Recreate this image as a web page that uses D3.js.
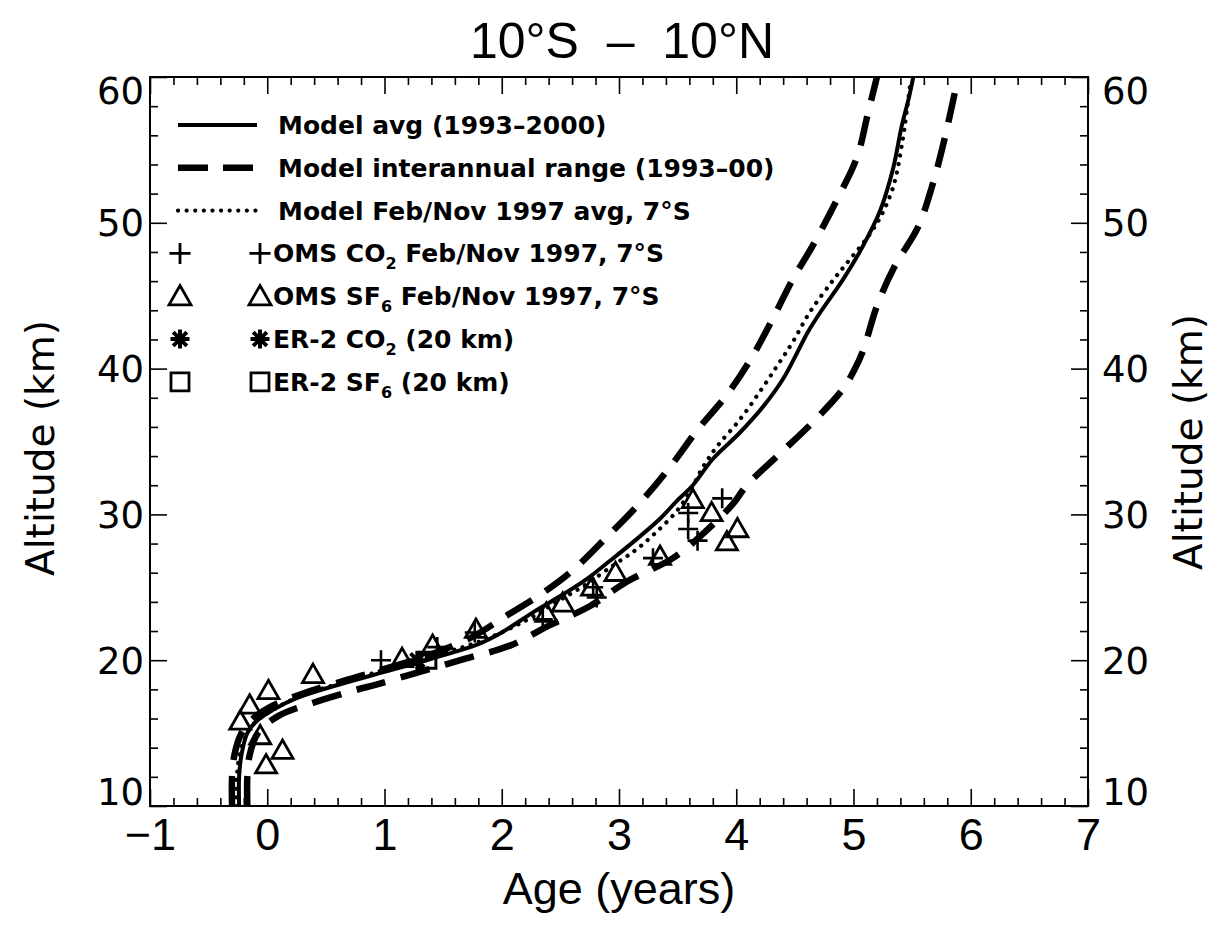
<!DOCTYPE html>
<html>
<head>
<meta charset="utf-8">
<script src="https://cdn.jsdelivr.net/npm/d3@7"></script>
<style>
  body { margin: 0; background: #fff; }
  svg text { fill: #000; white-space: pre; }
</style>
</head>
<body>
<svg id="chart" width="1217" height="932"></svg>
<script>
// ---- data (age in years, altitude in km) ----
const ageTicks = [-1, 0, 1, 2, 3, 4, 5, 6, 7];
const altTicks = [10, 20, 30, 40, 50, 60];

const modelAvg = [[-0.24,10],[-0.24,12],[-0.22,13.5],[-0.17,15],[-0.08,15.9],[0.05,16.6],[0.25,17.4],[0.6,18.3],
  [1.0,19.2],[1.4,20.1],[1.8,21.1],[2.0,21.9],[2.27,23.3],[2.5,24.4],[2.73,25.6],[2.92,26.8],[3.12,28.1],
  [3.35,29.7],[3.49,30.9],[3.63,32.0],[3.80,33.8],[4.03,35.6],[4.24,37.5],[4.40,39.3],[4.52,41.1],[4.61,42.5],
  [4.72,43.9],[4.91,46.1],[5.08,48.4],[5.23,50.9],[5.34,53.8],[5.41,56.6],[5.47,58.5],[5.51,60]];

const rangeLow = [[-0.30,10],[-0.30,12],[-0.28,13.5],[-0.22,15],[-0.12,16],[0.05,16.9],[0.3,17.7],[0.7,18.7],
  [1.0,19.4],[1.4,20.4],[1.75,21.6],[2.01,22.9],[2.33,24.5],[2.61,26.2],[2.89,28.4],[3.18,30.8],[3.43,33.2],
  [3.67,35.8],[3.92,38.2],[4.12,40.6],[4.31,43.4],[4.48,46.1],[4.65,48.4],[4.86,51.6],[5.03,54.5],[5.12,57.4],[5.20,60]];

const rangeHigh = [[-0.17,10],[-0.17,12],[-0.15,13.5],[-0.08,15],[0.1,16.2],[0.4,17.1],[0.73,17.9],[0.96,18.4],
  [1.3,19.2],[1.69,20.1],[2.07,21.0],[2.41,22.4],[2.75,23.7],[3.07,25.4],[3.46,27.0],[3.72,28.7],[3.97,30.7],
  [4.09,32.0],[4.35,34.0],[4.65,36.3],[4.91,38.6],[5.0,39.8],[5.08,41.2],[5.20,44.3],[5.35,47.0],[5.55,49.7],
  [5.67,52.5],[5.76,55.2],[5.85,58.4],[5.89,60]];

const model1997 = [[-0.26,10],[-0.26,12],[-0.22,14],[-0.12,15.6],[0.05,16.6],[0.3,17.6],[0.7,18.6],[1.1,19.6],
  [1.5,20.5],[1.85,21.4],[2.2,22.7],[2.45,23.9],[2.7,25.1],[2.95,26.5],[3.15,27.6],[3.32,28.8],[3.49,30.2],
  [3.6,31.5],[3.72,33.3],[3.84,34.7],[4.03,36.5],[4.20,38.4],[4.35,40.2],[4.48,41.8],[4.63,43.9],[4.83,46.1],
  [4.97,47.5],[5.11,48.9],[5.23,50.4],[5.34,52.5],[5.42,55.7],[5.46,58],[5.48,59.3]];

const omsCO2 = [[0.97,20.0],[1.45,20.9],[1.77,21.9],[2.35,22.8],[2.78,25.0],[2.81,24.3],[3.29,27.0],
  [3.59,30.1],[3.59,29.0],[3.67,28.2],[3.88,31.1]];
const omsSF6 = [[-0.01,12.7],[0.13,13.7],[-0.06,14.7],[-0.23,15.7],[-0.15,16.8],[0.01,17.8],[0.39,18.9],
  [1.15,20.0],[1.41,20.9],[1.78,22.0],[2.38,23.1],[2.52,23.8],[2.77,24.9],[2.97,25.9],[3.35,27.0],
  [3.63,30.9],[3.79,30.0],[4.01,28.9],[3.92,28.0]];
const er2CO2 = [[1.28,20.0]];
const er2SF6 = [[1.37,20.0]];

const legendLines = [
  { label: "Model avg (1993\u20132000)", dash: null },
  { label: "Model interannual range (1993\u201300)", dash: "30,15" },
  { label: "Model Feb/Nov 1997 avg, 7\u00b0S", dash: "dot" }
];
const legendMarks = [
  { sym: "plus", label: "OMS CO_2 Feb/Nov 1997, 7\u00b0S" },
  { sym: "tri", label: "OMS SF_6 Feb/Nov 1997, 7\u00b0S" },
  { sym: "star", label: "ER-2 CO_2 (20 km)" },
  { sym: "square", label: "ER-2 SF_6 (20 km)" }
];

// ---- layout ----
const svg = d3.select("#chart");
const pLeft = 150, pRight = 1088, pTop = 77, pBottom = 806;

let x = d3.scaleLinear().domain([-1, 7]).range([pLeft, pRight]);
let y = d3.scaleLinear().domain([10, 60]).range([pBottom, pTop]);

svg.append("defs").append("clipPath").attr("id", "plotclip")
  .append("rect").attr("x", pLeft).attr("y", pTop).attr("width", pRight - pLeft).attr("height", pBottom - pTop);

// title
svg.append("text").attr("x", 622).attr("y", 58).attr("text-anchor", "middle")
  .style("font-family", "'Liberation Sans', Arial, sans-serif").style("font-size", "50px")
  .text("10\u00b0S  \u2013  10\u00b0N");

// axes
const minorX = d3.range(-1, 7.001, 0.2).map(d => +d.toFixed(1)).filter(d => !ageTicks.includes(d));
const minorY = d3.range(10, 60.001, 2).filter(d => !altTicks.includes(d));

function strip(g) {
  g.select(".domain").remove();
  g.selectAll("line").attr("stroke", "#000").attr("stroke-width", 1.6);
}

svg.append("g").attr("transform", `translate(0,${pBottom})`)
  .call(d3.axisBottom(x).tickValues(ageTicks).tickSize(-17).tickPadding(12)
    .tickFormat(d => d < 0 ? "\u2212" + Math.abs(d) : d))
  .call(strip)
  .call(g => g.selectAll("text").style("font-family", "'Liberation Sans', Arial, sans-serif").style("font-size", "45px"));
svg.append("g").attr("transform", `translate(0,${pBottom})`)
  .call(d3.axisBottom(x).tickValues(minorX).tickSize(-8).tickFormat("")).call(strip);
svg.append("g").attr("transform", `translate(0,${pTop})`)
  .call(d3.axisTop(x).tickValues(ageTicks).tickSize(-17).tickFormat("")).call(strip);
svg.append("g").attr("transform", `translate(0,${pTop})`)
  .call(d3.axisTop(x).tickValues(minorX).tickSize(-8).tickFormat("")).call(strip);

function altLabels(g) {
  g.selectAll("text").style("font-family", "'DejaVu Sans', sans-serif").style("font-size", "37px")
    .attr("dy", d => d === 60 ? "0.72em" : d === 10 ? "-0.05em" : "0.35em");
}
svg.append("g").attr("transform", `translate(${pLeft},0)`)
  .call(d3.axisLeft(y).tickValues(altTicks).tickSize(-17).tickPadding(6)).call(strip).call(altLabels);
svg.append("g").attr("transform", `translate(${pLeft},0)`)
  .call(d3.axisLeft(y).tickValues(minorY).tickSize(-8).tickFormat("")).call(strip);
svg.append("g").attr("transform", `translate(${pRight},0)`)
  .call(d3.axisRight(y).tickValues(altTicks).tickSize(-17).tickPadding(14)).call(strip).call(altLabels);
svg.append("g").attr("transform", `translate(${pRight},0)`)
  .call(d3.axisRight(y).tickValues(minorY).tickSize(-8).tickFormat("")).call(strip);

// frame
svg.append("rect").attr("x", pLeft).attr("y", pTop).attr("width", pRight - pLeft).attr("height", pBottom - pTop)
  .attr("fill", "none").attr("stroke", "#000").attr("stroke-width", 2);

// axis titles
svg.append("text").attr("x", 619).attr("y", 904).attr("text-anchor", "middle")
  .style("font-family", "'Liberation Sans', Arial, sans-serif").style("font-size", "45px").text("Age (years)");
svg.append("text").attr("transform", "translate(54,448) rotate(-90)").attr("text-anchor", "middle")
  .style("font-family", "'DejaVu Sans', sans-serif").style("font-size", "39px").text("Altitude (km)");
svg.append("text").attr("transform", "translate(1202,442) rotate(-90)").attr("text-anchor", "middle")
  .style("font-family", "'DejaVu Sans', sans-serif").style("font-size", "39px").text("Altitude (km)");

// model curves
let line = d3.line().x(d => x(d[0])).y(d => y(d[1])).curve(d3.curveCatmullRom.alpha(0.5));
let plot = svg.append("g").attr("clip-path", "url(#plotclip)");

function styleLine(sel, dash) {
  sel.attr("fill", "none").attr("stroke", "#000");
  if (dash === "dot") {
    sel.attr("stroke-width", 4.2).attr("stroke-dasharray", "0.1,8.5").attr("stroke-linecap", "round");
  } else if (dash) {
    sel.attr("stroke-width", 6.5).attr("stroke-dasharray", dash);
  } else {
    sel.attr("stroke-width", 4);
  }
  return sel;
}

plot.append("path").datum(model1997).attr("d", line).call(styleLine, "dot");
plot.append("path").datum(modelAvg).attr("d", line).call(styleLine, null);
plot.append("path").datum(rangeLow).attr("d", line).call(styleLine, "30,16");
plot.append("path").datum(rangeHigh).attr("d", line).call(styleLine, "30,16");

// marker shapes
function symPath(sym, s) {
  if (sym === "plus") return `M${-s},0H${s}M0,${-s}V${s}`;
  if (sym === "tri") return `M0,${-s * 1.15}L${s},${s * 0.6}L${-s},${s * 0.6}Z`;
  if (sym === "square") return `M${-s},${-s}H${s}V${s}H${-s}Z`;
  let k = s * 0.72;
  return `M${-s},0H${s}M0,${-s}V${s}M${-k},${-k}L${k},${k}M${-k},${k}L${k},${-k}`;
}
function drawMarks(data, sym, s, w) {
  plot.append("g").selectAll("path").data(data).enter().append("path")
    .attr("transform", d => `translate(${x(d[0])},${y(d[1])})`)
    .attr("d", symPath(sym, s))
    .attr("fill", "none").attr("stroke", "#000").attr("stroke-width", w);
}
drawMarks(omsSF6, "tri", 10.5, 2.8);
drawMarks(omsCO2, "plus", 10, 2.6);
drawMarks(er2CO2, "star", 9.5, 4);
drawMarks(er2SF6, "square", 8, 3);

// legend
const legendFont = "'DejaVu Sans', sans-serif";
const rowY = d3.range(7).map(i => 125 + i * 42.8);
let leg = svg.append("g");

legendLines.forEach((d, i) => {
  leg.append("line").attr("x1", 178).attr("x2", 257).attr("y1", rowY[i]).attr("y2", rowY[i])
    .call(styleLine, d.dash);
  leg.append("text").attr("x", 278).attr("y", rowY[i] + 9)
    .style("font-family", legendFont).style("font-weight", "bold").style("font-size", "25px")
    .text(d.label);
});

legendMarks.forEach((d, j) => {
  let i = j + 3;
  let s = d.sym === "tri" ? 11 : d.sym === "square" ? 9 : d.sym === "star" ? 9.5 : 10.5;
  let w = d.sym === "star" ? 4 : 2.8;
  [180, 260].forEach(cx => {
    leg.append("path").attr("transform", `translate(${cx},${rowY[i] + (d.sym === "tri" ? 2 : 0)})`)
      .attr("d", symPath(d.sym, s)).attr("fill", "none").attr("stroke", "#000").attr("stroke-width", w);
  });
  let t = leg.append("text").attr("x", 273).attr("y", rowY[i] + 9)
    .style("font-family", legendFont).style("font-weight", "bold").style("font-size", "25px");
  d.label.split(/_(\d)/).forEach((part, k) => {
    if (k % 2 === 1) t.append("tspan").attr("dy", 7).style("font-size", "16px").text(part);
    else t.append("tspan").attr("dy", k === 0 ? 0 : -7).text(part);
  });
});
</script>
</body>
</html>
